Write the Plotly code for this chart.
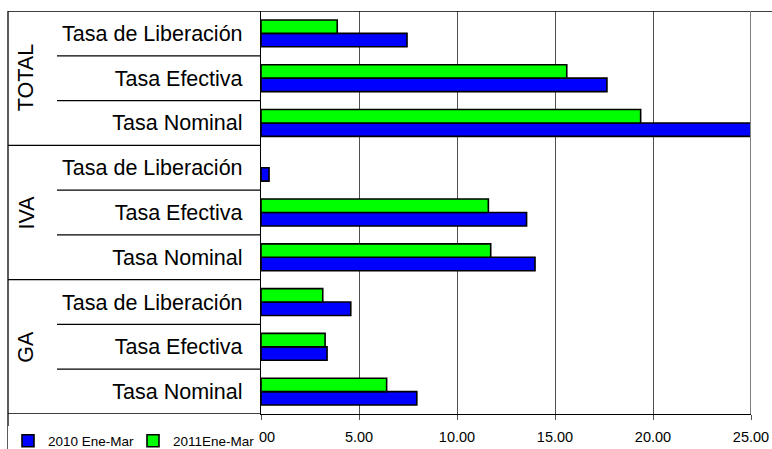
import plotly.graph_objects as go

# ---- data (bottom-to-top order of rows) ----
groups = ["GA", "IVA", "TOTAL"]
rates = ["Tasa Nominal", "Tasa Efectiva", "Tasa de Liberación"]
series_names = ["2010 Ene-Mar", "2011Ene-Mar"]
values_2010 = [7.95, 3.37, 4.58, 13.98, 13.55, 0.41, 25.08, 17.65, 7.45]
values_2011 = [6.41, 3.27, 3.15, 11.72, 11.60, None, 19.37, 15.60, 3.89]
x_ticks = [0, 5, 10, 15, 20, 25]

FONT = "Arial, Liberation Sans, sans-serif"
W, H = 772, 449
ML, MR, MT, MB = 261, 21, 11, 35
PW = W - ML - MR
PH = H - MT - MB

def px_x(p):
    return (p - ML) / PW

def px_y(p):
    return (H - MB - p) / PH

row_labels = [r for g in groups for r in rates]
row_pos = list(range(len(row_labels)))
n_rates = len(rates)

fig = go.Figure()
fig.add_trace(go.Bar(
    y=row_pos, x=values_2010, orientation="h", name=series_names[0],
    marker=dict(color="#0000FF", line=dict(color="black", width=1.6)),
))
fig.add_trace(go.Bar(
    y=row_pos, x=values_2011, orientation="h", name=series_names[1],
    marker=dict(color="#00FF00", line=dict(color="black", width=1.6)),
))

shapes = []
for i in range(len(row_labels) + 1):
    yb = i - 0.5
    x0 = px_x(8) if i % n_rates == 0 else px_x(57)
    x1 = px_x(W + 5) if i == len(row_labels) else 0
    shapes.append(dict(type="line", xref="paper", yref="y", x0=x0, x1=x1,
                       y0=yb, y1=yb, line=dict(color="black", width=1.3)))
shapes.append(dict(type="line", xref="paper", yref="paper", x0=px_x(8), x1=px_x(8),
                   y0=1, y1=px_y(H + 5), line=dict(color="black", width=1.3)))
shapes.append(dict(type="line", xref="x", yref="paper", x0=x_ticks[-1], x1=x_ticks[-1],
                   y0=0, y1=1, line=dict(color="#808080", width=2)))

annotations = []
for gi, g in enumerate(groups):
    annotations.append(dict(
        text=g, xref="paper", yref="y", x=px_x(26), y=gi * n_rates + (n_rates - 1) / 2,
        textangle=-90, showarrow=False, xanchor="center", yanchor="middle",
        font=dict(family=FONT, size=21.5, color="black"),
    ))

fig.update_layout(
    width=W, height=H,
    margin=dict(l=ML, r=MR, t=MT, b=MB, pad=0, autoexpand=False),
    paper_bgcolor="white", plot_bgcolor="white",
    barmode="group", bargap=0.4, bargroupgap=0,
    font=dict(family=FONT, color="black"),
    shapes=shapes, annotations=annotations,
    legend=dict(
        orientation="h", x=px_x(8), xanchor="left", y=px_y(441), yanchor="middle",
        bgcolor="white", font=dict(family=FONT, size=13.5, color="black"),
        entrywidth=80, itemwidth=30, traceorder="normal",
    ),
    xaxis=dict(
        range=[x_ticks[0], x_ticks[-1]], tickvals=x_ticks, tickformat=".2f",
        showgrid=True, gridcolor="#505050", gridwidth=1,
        showline=True, linecolor="black", linewidth=1.3,
        ticks="outside", ticklen=5, tickcolor="#505050",
        ticklabelstandoff=4,
        tickfont=dict(family=FONT, size=14.5, color="black"),
        zeroline=False, fixedrange=True,
    ),
    yaxis=dict(
        range=[-0.5, len(row_labels) - 0.5], tickvals=row_pos, ticktext=row_labels,
        showgrid=False, zeroline=False,
        showline=True, linecolor="black", linewidth=1.3,
        ticks="", ticklabelstandoff=13,
        tickfont=dict(family=FONT, size=21.5, color="black"),
        fixedrange=True,
    ),
)

fig.write_html("out.html", config={"displayModeBar": False},
               post_script="document.body.style.margin='0px';")
